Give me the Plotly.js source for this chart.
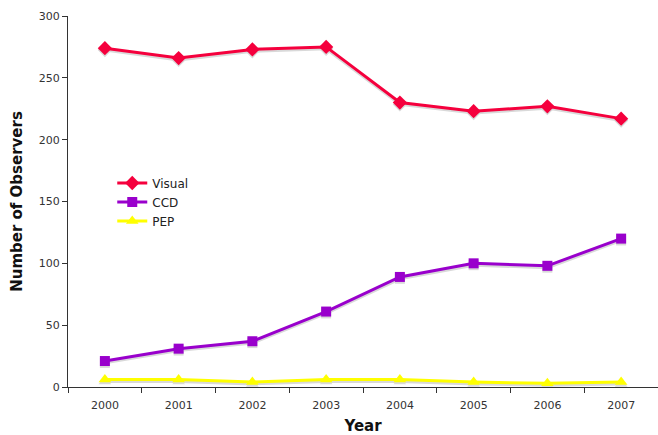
<!DOCTYPE html>
<html>
<head>
<meta charset="utf-8">
<script src="https://cdn.plot.ly/plotly-3.0.1.min.js"></script>
<style>html,body{margin:0;padding:0;background:#fff;}#chart{width:658px;height:435px;}</style>
</head>
<body>
<div id="chart"></div>
<script>
var years = ["2000","2001","2002","2003","2004","2005","2006","2007"];
var visual = [274, 266, 273, 275, 230, 223, 227, 217];
var ccd = [21, 31, 37, 61, 89, 100, 98, 120];
var pep = [6, 6, 4, 6, 6, 4, 3, 4];
var yTicks = [0, 50, 100, 150, 200, 250, 300];

var FONT = "DejaVu Sans, Verdana, sans-serif";
function shadow(y, sym, sz) {
  return {x: years, y: y, type: "scatter", mode: "lines+markers", yaxis: "y",
    line: {color: "#d9d9d9", width: 3}, marker: {symbol: sym, size: sz, color: "#d9d9d9"},
    showlegend: false, hoverinfo: "skip"};
}
var traces = [
  shadow(visual, "diamond", 11), shadow(ccd, "square", 10), shadow(pep, "triangle-up", 11),
  {x: years, y: visual, name: "Visual", type: "scatter", mode: "lines+markers", yaxis: "y2",
   line: {color: "#f5003d", width: 3}, marker: {symbol: "diamond", size: 11, color: "#f5003d"}},
  {x: years, y: ccd, name: "CCD", type: "scatter", mode: "lines+markers", yaxis: "y2",
   line: {color: "#9900cc", width: 3}, marker: {symbol: "square", size: 10, color: "#9900cc"}},
  {x: years, y: pep, name: "PEP", type: "scatter", mode: "lines+markers", yaxis: "y2",
   line: {color: "#ffff00", width: 3}, marker: {symbol: "triangle-up", size: 11, color: "#ffff00"}}
];
var layout = {
  width: 658, height: 435,
  margin: {l: 68, r: 0, t: 16, b: 48},
  paper_bgcolor: "#fff", plot_bgcolor: "#fff",
  font: {family: FONT, size: 11, color: "#333"},
  showlegend: true,
  legend: {x: 0.075, y: 0.589, xanchor: "left", yanchor: "top", bgcolor: "rgba(0,0,0,0)",
    font: {family: FONT, size: 12, color: "#222"}, tracegroupgap: 0},
  xaxis: {type: "category", range: [-0.5, 7.5], showgrid: false, zeroline: false,
    showline: true, linecolor: "#333", linewidth: 1, ticks: "outside", ticklen: 5,
    tickcolor: "#333", tickson: "boundaries", ticklabelstandoff: 8,
    tickfont: {family: FONT, size: 11, color: "#333"},
    title: {text: "Year", font: {family: FONT, size: 15, color: "#111", weight: "bold"}, standoff: 15}},
  yaxis: {range: [1.5, 301.5], visible: false, showgrid: false, zeroline: false},
  yaxis2: {overlaying: "y", side: "left", range: [0, 300], tickvals: yTicks, ticktext: yTicks.map(String), showgrid: false,
    zeroline: false, showline: true, linecolor: "#333", linewidth: 1, ticks: "outside",
    ticklen: 5, tickcolor: "#333", tickfont: {family: FONT, size: 11, color: "#333"},
    title: {text: "Number of Observers", font: {family: FONT, size: 15, color: "#111", weight: "bold"}, standoff: 12}}
};
Plotly.newPlot("chart", traces, layout, {displayModeBar: false, staticPlot: true});
</script>
</body>
</html>
